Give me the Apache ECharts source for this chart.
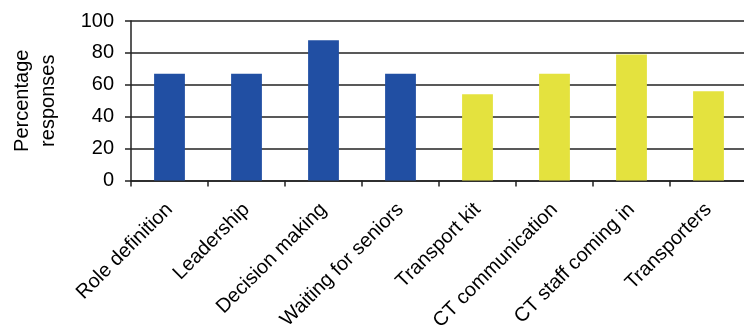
<!DOCTYPE html>
<html>
<head>
<meta charset="utf-8">
<script src="https://cdn.jsdelivr.net/npm/echarts@6/dist/echarts.min.js"></script>
<style>html,body{margin:0;padding:0;background:#fff;}#c{width:744px;height:330px;}</style>
</head>
<body>
<div id="c"></div>
<script>
const categories = ['Role definition','Leadership','Decision making','Waiting for seniors','Transport kit','CT communication','CT staff coming in','Transporters'];
const values = [67, 67, 88, 67, 54, 67, 79, 56];
const barColors = ['#214fa3','#214fa3','#214fa3','#214fa3','#e4e23e','#e4e23e','#e4e23e','#e4e23e'];
const yTicks = [0, 20, 40, 60, 80, 100];

const chart = echarts.init(document.getElementById('c'), null, {renderer:'canvas'});
chart.setOption({
  animation: false,
  grid: {left: 131, top: 21, width: 616, bottom: 149.5, containLabel: false, outerBoundsMode: 'none'},
  xAxis: {
    type: 'category',
    data: categories,
    axisLine: {show: true, lineStyle: {color: '#222', width: 1.5}},
    axisTick: {show: true, alignWithLabel: false, length: 6, lineStyle: {color: '#222', width: 1.5}},
    axisLabel: {rotate: 45, interval: 0, fontFamily: 'Liberation Sans', fontSize: 20, color: '#000', margin: 26}
  },
  yAxis: {
    type: 'value',
    min: yTicks[0], max: yTicks[yTicks.length-1], interval: 20,
    name: 'Percentage\nresponses',
    nameLocation: 'middle', nameRotate: 90, nameGap: 70,
    nameTextStyle: {fontFamily: 'Liberation Sans', fontSize: 20, color: '#000', lineHeight: 26},
    axisLine: {show: true, lineStyle: {color: '#222', width: 1.5}},
    axisTick: {show: true, length: 6, lineStyle: {color: '#222', width: 1.5}},
    axisLabel: {fontFamily: 'Liberation Sans', fontSize: 20, color: '#000', margin: 17},
    splitLine: {show: true, lineStyle: {color: '#222', width: 1.5}}
  },
  series: [{
    type: 'bar',
    barWidth: '40%',
    data: values.map((v, i) => ({value: v, itemStyle: {color: barColors[i]}}))
  }]
});
</script>
</body>
</html>
